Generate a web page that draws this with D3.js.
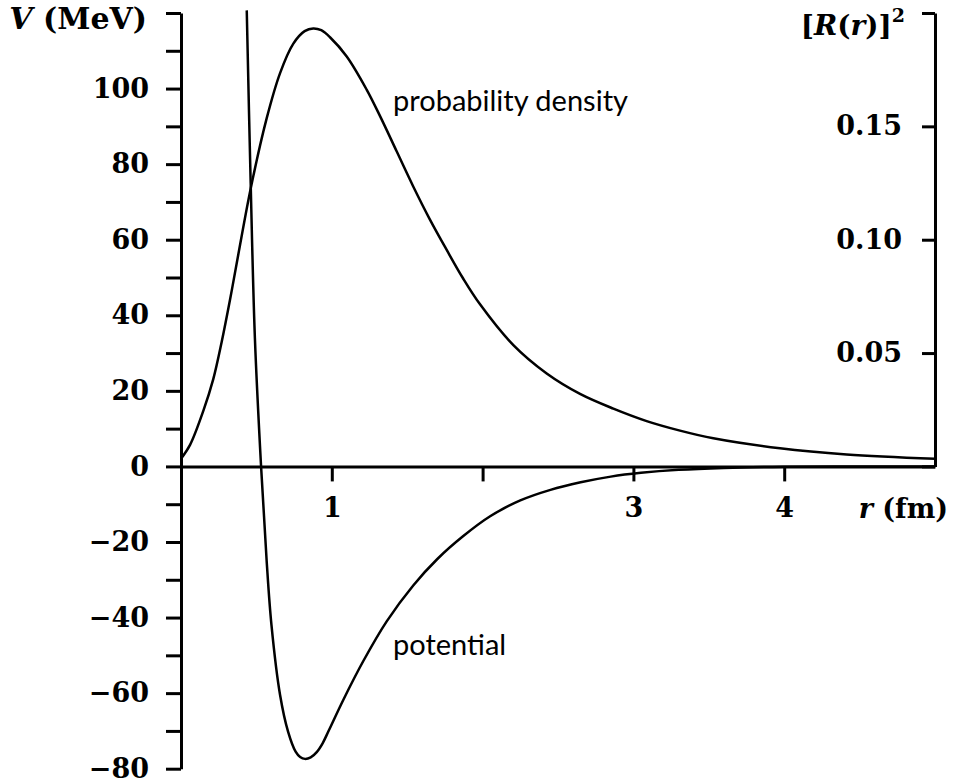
<!DOCTYPE html>
<html>
<head>
<meta charset="utf-8">
<script src="https://cdn.jsdelivr.net/npm/d3@7/dist/d3.min.js"></script>
<style>
  body { margin: 0; background: white; }
</style>
</head>
<body>
<svg id="chart"></svg>
<script>
// potential curve, r in fm, V in MeV
var potR = [0.436, 0.462, 0.490, 0.531, 0.568, 0.600, 0.657, 0.710, 0.760, 0.790, 0.822, 0.860, 0.900, 0.940, 0.980, 1.076, 1.209, 1.364, 1.540, 1.700, 1.870, 2.050, 2.250, 2.450, 2.650, 2.850, 3.050, 3.300, 3.600, 4.000, 4.500, 5.000]
var potV = [120.7, 75.0, 34.0, 0, -25.0, -42.0, -60.5, -70.2, -75.5, -76.9, -77.4, -77.0, -75.6, -73.2, -69.9, -61.8, -51.5, -41.0, -31.5, -24.5, -18.5, -13.2, -9.0, -6.2, -4.2, -2.7, -1.7, -0.9, -0.4, -0.1, 0, 0]

// probability density [R(r)]^2
var probR = [0, 0.060, 0.148, 0.214, 0.270, 0.325, 0.380, 0.462, 0.568, 0.657, 0.745, 0.820, 0.877, 0.930, 0.988, 1.099, 1.231, 1.320, 1.430, 1.540, 1.650, 1.762, 1.870, 1.983, 2.204, 2.425, 2.646, 2.867, 3.088, 3.309, 3.530, 3.972, 4.414, 5.000]
var probP = [0.0034, 0.0095, 0.0245, 0.0385, 0.0550, 0.0735, 0.0935, 0.1225, 0.1535, 0.1735, 0.1865, 0.1920, 0.1932, 0.1924, 0.1893, 0.1808, 0.1662, 0.1545, 0.1390, 0.1235, 0.1090, 0.0955, 0.0830, 0.0715, 0.0535, 0.0410, 0.0320, 0.0255, 0.0200, 0.0158, 0.0124, 0.0080, 0.0053, 0.0034]

var vTicks = d3.range(-80, 121, 10)          // every 10 MeV, labels every 20
var vLabelled = [-80, -60, -40, -20, 0, 20, 40, 60, 80, 100]
var pTicks = [0, 0.05, 0.10, 0.15, 0.20]
var pLabelled = [0.05, 0.10, 0.15]
var rTicks = [1, 2, 3, 4]
var rLabelled = [1, 3, 4]

var dimensions = {
  width: 954,
  height: 783,
  left: 181,
  right: 935,
  top: 13,
  bottom: 768.7
}

var svg = d3.select("#chart")
  .attr("width", dimensions.width)
  .attr("height", dimensions.height)

var serif = "'DejaVu Serif', serif"
var sans = "Lato, 'DejaVu Sans', sans-serif"

var x = d3.scaleLinear().domain([0, 5]).range([dimensions.left, dimensions.right])
var yV = d3.scaleLinear().domain([-80, 120]).range([dimensions.bottom, dimensions.top])
var yP = d3.scaleLinear().domain([0, 0.20]).range([yV(0), dimensions.top])

var fmtV = d3.format("d")
var fmtP = d3.format(".2f")

// left axis (potential)
svg.append("g")
  .attr("transform", "translate(" + dimensions.left + ",0)")
  .call(d3.axisLeft(yV)
    .tickValues(vTicks)
    .tickSize(15)
    .tickSizeOuter(0)
    .tickPadding(17)
    .tickFormat(d => vLabelled.includes(d) ? fmtV(d) : ""))

// right axis (probability density), ticks point inward
svg.append("g")
  .attr("transform", "translate(" + dimensions.right + ",0)")
  .call(d3.axisLeft(yP)
    .tickValues(pTicks)
    .tickSize(13)
    .tickSizeOuter(0)
    .tickPadding(20)
    .tickFormat(d => pLabelled.some(p => Math.abs(p - d) < 1e-9) ? fmtP(d) : ""))

// r axis along V = 0
svg.append("g")
  .attr("transform", "translate(0," + yV(0) + ")")
  .call(d3.axisBottom(x)
    .tickValues(rTicks)
    .tickSize(15)
    .tickSizeOuter(0)
    .tickPadding(16)
    .tickFormat(d => rLabelled.includes(d) ? d : ""))

svg.selectAll(".domain")
  .attr("stroke", "black")
  .attr("stroke-width", 3)
svg.selectAll(".tick line")
  .attr("stroke", "black")
  .attr("stroke-width", 3)
svg.selectAll(".tick text")
  .attr("fill", "black")
  .style("font-family", serif)
  .style("font-weight", "bold")
  .style("font-size", "27px")

// curves
svg.append("clipPath")
  .attr("id", "plotclip")
  .append("rect")
  .attr("x", dimensions.left)
  .attr("y", 9)
  .attr("width", dimensions.right - dimensions.left)
  .attr("height", dimensions.bottom - 9)

var potLine = d3.line()
  .x(i => x(potR[i]))
  .y(i => yV(potV[i]))
  .curve(d3.curveCatmullRom)

var probLine = d3.line()
  .x(i => x(probR[i]))
  .y(i => yP(probP[i]))
  .curve(d3.curveCatmullRom)

svg.append("path")
  .datum(d3.range(potR.length))
  .attr("clip-path", "url(#plotclip)")
  .attr("d", potLine)
  .attr("fill", "none")
  .attr("stroke", "black")
  .attr("stroke-width", 2.5)

svg.append("path")
  .datum(d3.range(probR.length))
  .attr("clip-path", "url(#plotclip)")
  .attr("d", probLine)
  .attr("fill", "none")
  .attr("stroke", "black")
  .attr("stroke-width", 2.5)

// axis titles
var vTitle = svg.append("text")
  .attr("x", 147)
  .attr("y", 29)
  .attr("text-anchor", "end")
  .style("font-family", serif)
  .style("font-weight", "bold")
  .style("font-size", "30px")
vTitle.append("tspan").style("font-style", "italic").text("V")
vTitle.append("tspan").text(" (MeV)")

var pTitle = svg.append("text")
  .attr("x", 905)
  .attr("y", 35)
  .attr("text-anchor", "end")
  .style("font-family", serif)
  .style("font-weight", "bold")
  .style("font-size", "28px")
pTitle.append("tspan").text("[")
pTitle.append("tspan").style("font-style", "italic").text("R")
pTitle.append("tspan").text("(")
pTitle.append("tspan").style("font-style", "italic").text("r")
pTitle.append("tspan").text(")]")
pTitle.append("tspan").attr("dy", -13).style("font-size", "19px").text("2")

var rTitle = svg.append("text")
  .attr("x", 948)
  .attr("y", 518)
  .attr("text-anchor", "end")
  .style("font-family", serif)
  .style("font-weight", "bold")
  .style("font-size", "27px")
rTitle.append("tspan").style("font-style", "italic").text("r")
rTitle.append("tspan").text(" (fm)")

// curve labels
svg.append("text")
  .attr("x", 393)
  .attr("y", 111)
  .style("font-family", sans)
  .style("font-size", "29px")
  .text("probability density")

svg.append("text")
  .attr("x", 393)
  .attr("y", 655)
  .style("font-family", sans)
  .style("font-size", "29px")
  .text("potential")
</script>
</body>
</html>
